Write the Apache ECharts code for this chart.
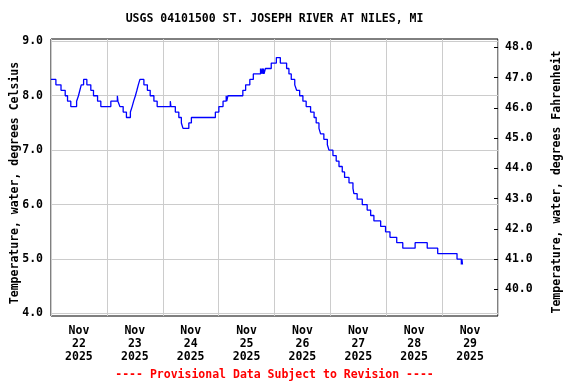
<!DOCTYPE html>
<html>
<head>
<meta charset="utf-8">
<script src="https://cdn.jsdelivr.net/npm/echarts@6/dist/echarts.min.js"></script>
<style>
html,body{margin:0;padding:0;background:#fff;}
#chart{width:576px;height:384px;}
</style>
</head>
<body>
<div id="chart"></div>
<script>
// Hours since 2025-11-22 00:00 at which the reading changes, and the reading (deg C)
const hours = [0,2.1,4.3,6.1,7.1,8.5,11.0,11.8,12.4,13.0,14.0,15.4,17.1,18.25,20.0,21.4,25.7,28.5,28.75,29.6,31.0,32.4,34.1,34.85,35.5,36.25,36.9,37.5,38.2,39.9,41.4,42.6,44.2,45.6,51.25,51.5,53.4,54.9,56.0,56.7,59.2,60.3,70.6,72.1,73.9,75.25,75.5,76.0,82.4,83.6,85.4,86.9,90.0,90.25,90.75,91.0,91.25,91.5,92.1,94.6,96.8,98.5,101.2,102.2,103.2,104.7,105.5,106.8,108.2,109.6,111.5,113.0,113.9,115.1,115.8,117.2,118.7,119.4,121.1,122.5,123.7,125.1,126.1,128.0,129.7,130.1,131.5,133.7,135.8,137.3,138.7,141.6,143.7,145.6,148.5,151.1,156.4,161.6,166.1,174.4,176.25,176.5,176.75,177.0];
const tempC = [8.3,8.2,8.1,8.0,7.9,7.8,7.9,8.0,8.1,8.2,8.3,8.2,8.1,8.0,7.9,7.8,7.9,8.0,7.9,7.8,7.7,7.6,7.7,7.8,7.9,8.0,8.1,8.2,8.3,8.2,8.1,8.0,7.9,7.8,7.9,7.8,7.7,7.6,7.5,7.4,7.5,7.6,7.7,7.8,7.9,8.0,7.9,8.0,8.1,8.2,8.3,8.4,8.5,8.4,8.5,8.4,8.5,8.4,8.5,8.6,8.7,8.6,8.5,8.4,8.3,8.2,8.1,8.0,7.9,7.8,7.7,7.6,7.5,7.4,7.3,7.2,7.1,7.0,6.9,6.8,6.7,6.6,6.5,6.4,6.3,6.2,6.1,6.0,5.9,5.8,5.7,5.6,5.5,5.4,5.3,5.2,5.3,5.2,5.1,5.0,4.9,5.0,4.9,4.9];

const dayLabels = ['Nov\n22\n2025','Nov\n23\n2025','Nov\n24\n2025','Nov\n25\n2025','Nov\n26\n2025','Nov\n27\n2025','Nov\n28\n2025','Nov\n29\n2025'];
const celsiusTicks = [4,5,6,7,8,9];
const fahrenheitTicks = [40,41,42,43,44,45,46,47,48];
const titleText = 'USGS 04101500 ST. JOSEPH RIVER AT NILES, MI';
const footerText = '---- Provisional Data Subject to Revision ----';
const leftName = 'Temperature, water, degrees Celsius';
const rightName = 'Temperature, water, degrees Fahrenheit';

const cMin = 3.954, cMax = 9.042;
const FONT = '"DejaVu Sans Mono", "Liberation Mono", monospace';

const seriesData = hours.map((h, i) => [h, tempC[i]]);
const labelHours = dayLabels.map((_, i) => i * 24 + 12);

const chart = echarts.init(document.getElementById('chart'), null, {renderer: 'canvas'});
chart.setOption({
  animation: false,
  backgroundColor: '#fff',
  grid: {left: 51, right: 78, top: 39, bottom: 68, show: true, borderColor: '#000', borderWidth: 1, backgroundColor: 'transparent'},
  xAxis: {
    type: 'value', min: 0, max: 192, interval: 24,
    axisLine: {show: false},
    axisTick: {show: false},
    splitLine: {show: true, lineStyle: {color: '#cccccc', width: 1}},
    axisLabel: {
      customValues: labelHours,
      margin: 9,
      color: '#000', fontFamily: FONT, fontWeight: 'bold', fontSize: 11.5, lineHeight: 13,
      formatter: v => dayLabels[Math.round((v - 12) / 24)] || ''
    }
  },
  yAxis: [{
    type: 'value', min: cMin, max: cMax, position: 'left',
    axisLine: {show: false},
    axisTick: {show: false, customValues: celsiusTicks},
    splitLine: {show: true, lineStyle: {color: '#cccccc', width: 1}},
    axisLabel: {customValues: celsiusTicks, margin: 8, color: '#000', fontFamily: FONT, fontWeight: 'bold', fontSize: 11.5,
      formatter: v => v.toFixed(1)}
  }, {
    type: 'value', min: cMin * 1.8 + 32, max: cMax * 1.8 + 32, position: 'right',
    axisLine: {show: false},
    axisTick: {show: true, inside: true, length: 4, customValues: fahrenheitTicks, lineStyle: {color: '#000'}},
    splitLine: {show: false},
    axisLabel: {customValues: fahrenheitTicks, margin: 7, color: '#000', fontFamily: FONT, fontWeight: 'bold', fontSize: 11.5,
      formatter: v => v.toFixed(1)}
  }],
  series: [{
    type: 'line', step: 'end', data: seriesData, yAxisIndex: 0,
    showSymbol: false, symbol: 'none',
    lineStyle: {color: '#0000ff', width: 1.3},
    z: 3
  }],
  graphic: [
    {type: 'text', x: 274.5, y: 19.5, style: {text: titleText, fill: '#000', font: 'bold 11.5px ' + FONT, textAlign: 'center', textVerticalAlign: 'middle'}},
    {type: 'text', x: 274.5, y: 375.5, style: {text: footerText, fill: '#ff0000', font: 'bold 11.5px ' + FONT, textAlign: 'center', textVerticalAlign: 'middle'}},
    {type: 'text', x: 15, y: 183, rotation: Math.PI / 2, style: {text: leftName, fill: '#000', font: 'bold 11.5px ' + FONT, textAlign: 'center', textVerticalAlign: 'middle'}},
    {type: 'text', x: 557, y: 182, rotation: Math.PI / 2, style: {text: rightName, fill: '#000', font: 'bold 11.5px ' + FONT, textAlign: 'center', textVerticalAlign: 'middle'}}
  ]
});
</script>
</body>
</html>
